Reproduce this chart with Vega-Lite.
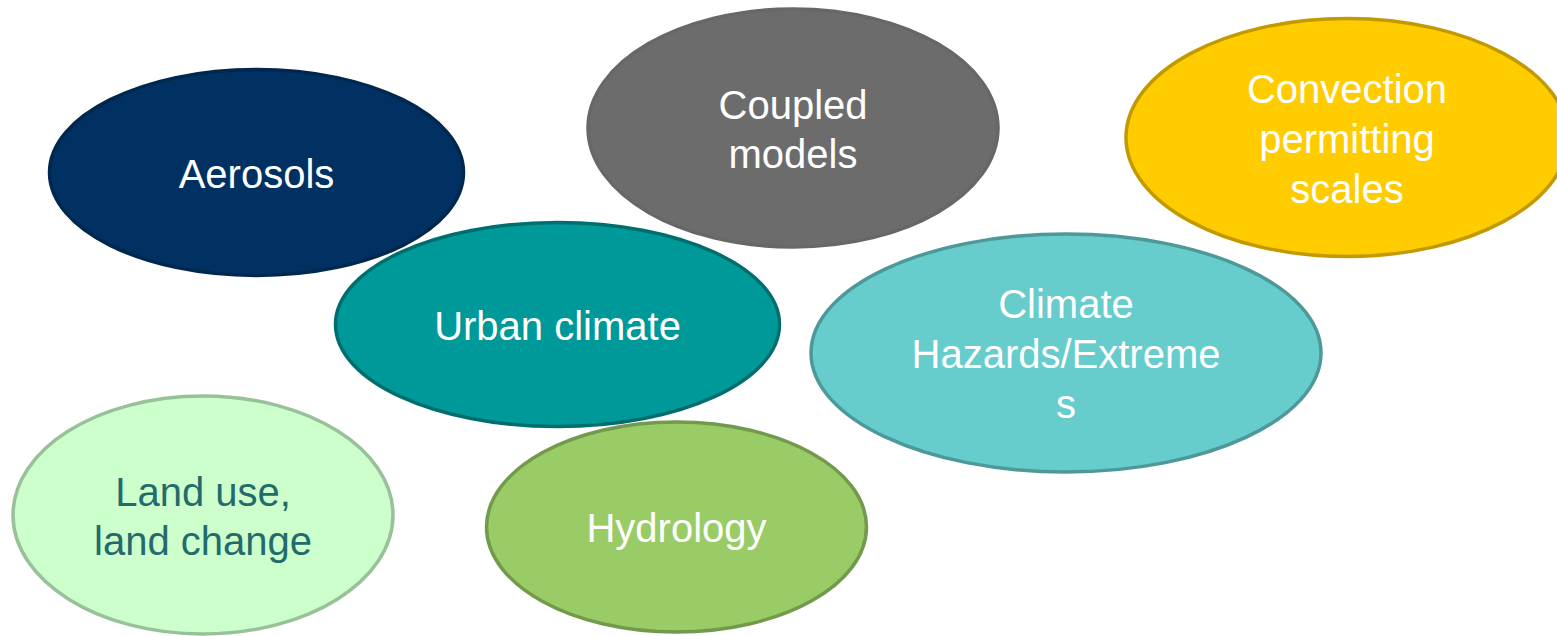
{
  "$schema": "https://vega.github.io/schema/vega-lite/v6.json",
  "width": 1557,
  "height": 636,
  "autosize": "none",
  "padding": 0,
  "background": "white",
  "config": {"view": {"stroke": null}},
  "data": {
    "values": [
      {"name": "Aerosols", "label": "Aerosols", "lines": 1, "cx": 256.5, "cy": 172.5},
      {"name": "Coupled", "label": "Coupled\nmodels", "lines": 2, "cx": 793, "cy": 128},
      {"name": "Convection", "label": "Convection\npermitting\nscales", "lines": 3, "cx": 1347, "cy": 137.5},
      {"name": "Urban", "label": "Urban climate", "lines": 1, "cx": 557.5, "cy": 324.5},
      {"name": "Hazards", "label": "Climate\nHazards/Extreme\ns", "lines": 3, "cx": 1066, "cy": 353},
      {"name": "Land", "label": "Land use,\nland change", "lines": 2, "cx": 203, "cy": 515},
      {"name": "Hydrology", "label": "Hydrology", "lines": 1, "cx": 676.5, "cy": 527}
    ]
  },
  "encoding": {
    "x": {"field": "cx", "type": "quantitative", "scale": {"domain": [0, 1557], "nice": false, "zero": false}, "axis": null},
    "y": {"field": "cy", "type": "quantitative", "scale": {"domain": [0, 636], "nice": false, "zero": false, "reverse": true}, "axis": null}
  },
  "layer": [
    {
      "mark": {"type": "point", "filled": true, "size": 4, "opacity": 1, "strokeWidth": 3.5, "strokeOpacity": 1, "fillOpacity": 1},
      "encoding": {
        "shape": {
          "field": "name", "type": "nominal", "legend": null,
          "scale": {
            "domain": ["Aerosols", "Coupled", "Convection", "Urban", "Hazards", "Land", "Hydrology"],
            "range": [
              "M -207 0 A 207 103 0 1 0 207 0 A 207 103 0 1 0 -207 0 Z",
              "M -205 0 A 205 119 0 1 0 205 0 A 205 119 0 1 0 -205 0 Z",
              "M -221 0 A 221 119 0 1 0 221 0 A 221 119 0 1 0 -221 0 Z",
              "M -222 0 A 222 102 0 1 0 222 0 A 222 102 0 1 0 -222 0 Z",
              "M -255 0 A 255 119 0 1 0 255 0 A 255 119 0 1 0 -255 0 Z",
              "M -190 0 A 190 119 0 1 0 190 0 A 190 119 0 1 0 -190 0 Z",
              "M -190 0 A 190 105 0 1 0 190 0 A 190 105 0 1 0 -190 0 Z"
            ]
          }
        },
        "fill": {
          "field": "name", "type": "nominal", "legend": null,
          "scale": {
            "domain": ["Aerosols", "Coupled", "Convection", "Urban", "Hazards", "Land", "Hydrology"],
            "range": ["#003162", "#6c6c6c", "#ffcc00", "#009999", "#66cccc", "#ccffcc", "#99cc66"]
          }
        },
        "stroke": {
          "field": "name", "type": "nominal", "legend": null,
          "scale": {
            "domain": ["Aerosols", "Coupled", "Convection", "Urban", "Hazards", "Land", "Hydrology"],
            "range": ["#00284f", "#676767", "#c29a00", "#006e6e", "#4d9999", "#99c199", "#739a4c"]
          }
        }
      }
    },
    {
      "transform": [{"filter": "datum.lines === 1"}],
      "mark": {"type": "text", "font": "Liberation Sans", "fontSize": 40, "lineHeight": 50, "lineBreak": "\n", "align": "center", "baseline": "middle", "dy": 3},
      "encoding": {
        "text": {"field": "label", "type": "nominal"},
        "color": {"value": "#ffffff"}
      }
    },
    {
      "transform": [{"filter": "datum.lines === 2"}],
      "mark": {"type": "text", "font": "Liberation Sans", "fontSize": 40, "lineHeight": 49, "lineBreak": "\n", "align": "center", "baseline": "middle", "dy": -21},
      "encoding": {
        "text": {"field": "label", "type": "nominal"},
        "color": {"condition": {"test": "datum.name === 'Land'", "value": "#236b6b"}, "value": "#ffffff"}
      }
    },
    {
      "transform": [{"filter": "datum.lines === 3"}],
      "mark": {"type": "text", "font": "Liberation Sans", "fontSize": 40, "lineHeight": 50, "lineBreak": "\n", "align": "center", "baseline": "middle", "dy": -47},
      "encoding": {
        "text": {"field": "label", "type": "nominal"},
        "color": {"value": "#ffffff"}
      }
    }
  ]
}
